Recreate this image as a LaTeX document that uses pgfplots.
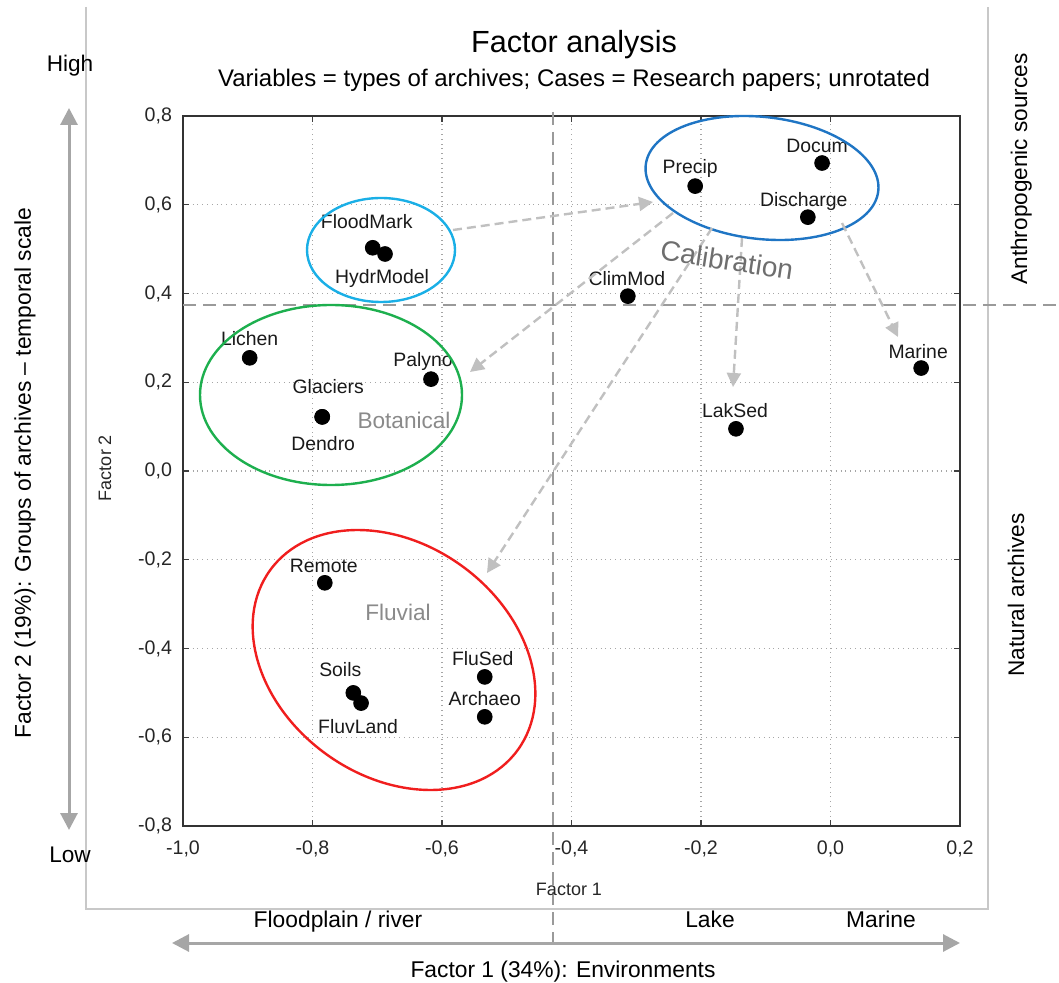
\documentclass[border=0pt]{standalone}
\usepackage{fontspec}
\setmainfont{Liberation Sans}
\usepackage{pgfplots}
\usepackage{pgfplotstable}
\pgfplotsset{compat=1.18}
\usetikzlibrary{arrows.meta}
\definecolor{cyanell}{HTML}{1AAFE6}
\definecolor{blueell}{HTML}{1F75C4}
\definecolor{greenell}{HTML}{1DAF4E}
\definecolor{redell}{HTML}{F01E1E}
\definecolor{arrgray}{HTML}{C0C0C0}
\definecolor{dashgray}{HTML}{9A9A9A}
\definecolor{biggray}{HTML}{A6A6A6}
\definecolor{framegray}{HTML}{C8C8C8}
\definecolor{grouptext}{HTML}{8A8A8A}
\definecolor{calibtext}{HTML}{6E6E6E}

\pgfplotstableread{
x y dx dy label
-0.209 0.642 -5 18 Precip
-0.013 0.694 -5 17 Docum
-0.035 0.572 -4 16 Discharge
-0.707 0.503 -6 26 FloodMark
-0.688 0.489 -3 -24 HydrModel
-0.313 0.394 -1 18 ClimMod
-0.897 0.255 0 19 Lichen
-0.617 0.207 -8 18 Palyno
-0.785 0.122 6 30 Glaciers
-0.785 0.122 1 -27 Dendro
0.140 0.232 -3 16 Marine
-0.146 0.095 -1 18 LakSed
-0.781 -0.252 -1 17 Remote
-0.534 -0.464 -2 18 FluSed
-0.534 -0.554 0 18 Archaeo
-0.737 -0.500 -13 23 Soils
-0.725 -0.523 -3 -23 FluvLand
}\pointdata

\begin{document}
\begin{tikzpicture}
\useasboundingbox (0,0) rectangle (529.5pt,-491.5pt);
\begin{scope}[x=0.5pt,y=-0.5pt]
  \draw[framegray, line width=0.6pt] (86,7) -- (86,909) -- (988,909) -- (988,7);
\end{scope}
\begin{axis}[
  at={(91.5pt,-413pt)}, anchor=south west,
  scale only axis, width=388.5pt, height=355pt,
  xmin=-1, xmax=0.2, ymin=-0.8, ymax=0.8,
  xtick={-1,-0.8,-0.6,-0.4,-0.2,0,0.2},
  xticklabels={{-1,0},{-0,8},{-0,6},{-0,4},{-0,2},{0,0},{0,2}},
  ytick={-0.8,-0.6,-0.4,-0.2,0,0.2,0.4,0.6,0.8},
  yticklabels={{-0,8},{-0,6},{-0,4},{-0,2},{0,0},{0,2},{0,4},{0,6},{0,8}},
  xtick pos=both, ytick pos=both,
  tick align=inside, major tick length=3pt,
  tick style={black!75, line width=0.6pt},
  axis line style={black!80, line width=1pt},
  grid=major,
  major grid style={dotted, black!35, line width=0.6pt},
  xticklabel style={font=\fontsize{9.8}{11}\selectfont, text=black!85, yshift=-4pt},
  yticklabel style={font=\fontsize{9.8}{11}\selectfont, text=black!85, xshift=-2pt},
  clip=false,
]
\addplot[only marks, mark=*, mark size=3.7pt, black,
  nodes near coords, point meta=explicit symbolic,
  visualization depends on={\thisrow{dx} \as \dx},
  visualization depends on={\thisrow{dy} \as \dy},
  every node near coord/.append style={anchor=center, inner sep=0pt,
    font=\fontsize{9.7}{11}\selectfont, text=black!90,
    xshift=\dx*0.5pt, yshift=\dy*0.5pt}]
  table[x=x, y=y, meta=label] {\pointdata};
\end{axis}
\begin{scope}[x=0.5pt,y=-0.5pt]
  % dashed quadrant lines
  \draw[dashgray, line width=1.1pt, dash pattern=on 6.5pt off 3.5pt] (553,112) -- (553,945);
  \draw[dashgray, line width=1.1pt, dash pattern=on 6.5pt off 3.5pt] (183,305) -- (1059,305);
  % ellipses
  \draw[cyanell, line width=1.2pt] (381,250) ellipse [x radius=37pt, y radius=26pt];
  \draw[blueell, line width=1.2pt, rotate around={-6.4:(762,178)}] (762,178) ellipse [x radius=58.5pt, y radius=30.5pt];
  \draw[greenell, line width=1.2pt] (331,395) ellipse [x radius=65.5pt, y radius=45pt];
  \draw[redell, line width=1.2pt, rotate around={-36:(394,660)}] (394,660) ellipse [x radius=76.5pt, y radius=58pt];
  % arrows
  \begin{scope}[arrgray, line width=1.2pt, dash pattern=on 4.5pt off 2.5pt, -{Triangle[length=7pt,width=7pt]}]
    \draw (453,230) -- (653,202);
    \draw (673,213) -- (470,372);
    \draw (712,228) -- (487,573);
    \draw (742,238) -- (733,387);
    \draw (842,223) -- (898,337);
  \end{scope}
  % big arrows
  \draw[biggray, line width=1.5pt, {Triangle[length=8.5pt,width=8.5pt]}-{Triangle[length=8.5pt,width=8.5pt]}] (69,108) -- (69,830);
  \draw[biggray, line width=1.5pt, {Triangle[length=8.5pt,width=8.5pt]}-{Triangle[length=8.5pt,width=8.5pt]}] (172,943) -- (960,943);
  % group labels
  \node[calibtext, font=\fontsize{14}{16}\selectfont, rotate=-8.7] at (727,260) {Calibration};
  \node[grouptext, font=\fontsize{11.3}{13}\selectfont] at (404,420) {Botanical};
  \node[grouptext, font=\fontsize{11.3}{13}\selectfont] at (398,612) {Fluvial};
  % titles
  \node[anchor=base, font=\fontsize{15.3}{18}\selectfont] at (574,53) {Factor analysis};
  \node[anchor=base, font=\fontsize{12}{14}\selectfont] at (574,87) {Variables = types of archives; Cases = Research papers; unrotated};
  \node[anchor=base, font=\fontsize{11.3}{13}\selectfont] at (70,72) {High};
  \node[anchor=base, font=\fontsize{11.3}{13}\selectfont] at (70,862) {Low};
  \node[anchor=base, font=\fontsize{11.4}{13}\selectfont] at (338,927) {Floodplain / river};
  \node[anchor=base, font=\fontsize{11.4}{13}\selectfont] at (710,927) {Lake};
  \node[anchor=base, font=\fontsize{11.4}{13}\selectfont] at (881,927) {Marine};
  \node[anchor=base, font=\fontsize{11.4}{13}\selectfont] at (563,977) {Factor 1 (34\%): Environments};
  \node[anchor=base, font=\fontsize{9}{11}\selectfont, text=black!85] at (569,895) {Factor 1};
  \node[anchor=base, rotate=90, font=\fontsize{9}{11}\selectfont, text=black!85] at (111,468) {Factor 2};
  \node[anchor=base, rotate=90, font=\fontsize{11.4}{13}\selectfont] at (31,473) {Factor 2 (19\%): Groups of archives – temporal scale};
  \node[anchor=base, rotate=90, font=\fontsize{11.3}{13}\selectfont] at (1027,169) {Anthropogenic sources};
  \node[anchor=base, rotate=90, font=\fontsize{11.3}{13}\selectfont] at (1024,595) {Natural archives};
\end{scope}
\end{tikzpicture}
\end{document}
